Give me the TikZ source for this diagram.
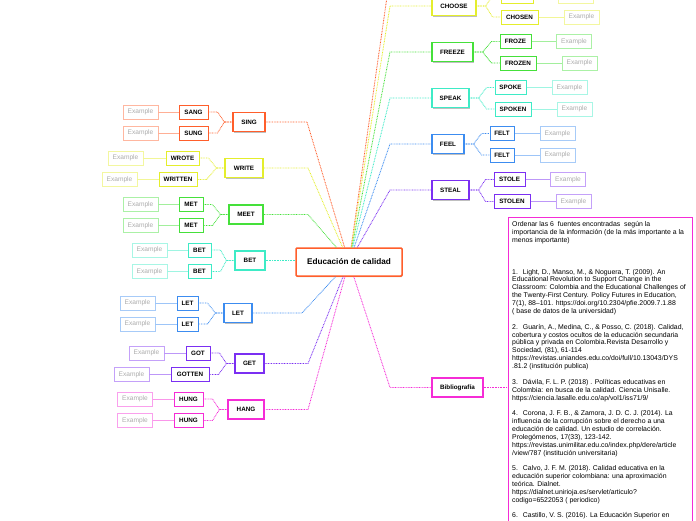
\documentclass[tikz,border=0pt]{standalone}
\usepackage{fontspec}
\setmainfont{Liberation Sans}
\usetikzlibrary{shadows}
\definecolor{corange}{HTML}{FF5E2B}
\definecolor{cyellow}{HTML}{E4EE2C}
\definecolor{cgreen}{HTML}{45E03A}
\definecolor{cteal}{HTML}{3EEBC6}
\definecolor{cblue}{HTML}{3C8CF0}
\definecolor{cpurple}{HTML}{7B2FF2}
\definecolor{cpink}{HTML}{F52CD6}
\tikzset{
  lvlone/.style={draw=#1, line width=1.2pt, fill=white, minimum height=19pt, inner sep=0pt,
    font=\fontsize{6.3}{7}\selectfont\bfseries,
    drop shadow={shadow xshift=0.5pt,shadow yshift=-1pt,fill=black,opacity=0.25}},
  lvltwo/.style={draw=#1, line width=1pt, fill=white, minimum height=14pt, inner sep=0pt,
    font=\fontsize{6.3}{7}\selectfont\bfseries},
  exbox/.style={draw=#1!45, line width=0.9pt, fill=white, minimum height=14pt, minimum width=35pt,
    inner sep=0pt, text=black!32, font=\fontsize{6.6}{7}\selectfont},
  conn/.style={draw=#1, line width=0.85pt, dash pattern=on 0.8pt off 0.8pt},
  exconn/.style={draw=#1!50, line width=1pt},
}
\newcommand\rbr[3]{\draw[conn=#1] (#2.east) -- ++(9,0) -- ([xshift=-8pt]#3.west) -- (#3.west);}
\newcommand\lbr[3]{\draw[conn=#1] (#2.west) -- ++(-8,0) -- ([xshift=9pt]#3.east) -- (#3.east);}
\begin{document}
\begin{tikzpicture}[x=1pt,y=-1pt]
\useasboundingbox (0,0) rectangle (696,520);
\clip (0,0) rectangle (696,520);
% center
\node[draw=corange, line width=1.5pt, fill=white, minimum width=106pt, minimum height=28pt, inner sep=0pt,
  rounded corners=1pt, font=\fontsize{8.2}{9}\selectfont\bfseries,
  drop shadow={shadow xshift=0.5pt,shadow yshift=-1pt,fill=black,opacity=0.25}] (ctr) at (349,262) {Educación de calidad};
\coordinate (topend) at (393,-45);
% ---------- right side ----------
\node[lvlone=cyellow, minimum width=44pt] (choose) at (454,6) {CHOOSE};
\node[lvltwo=cyellow, minimum width=32pt] (chose) at (517,-4) {};
\node[exbox=cyellow] (exchose) at (576,-4) {};
\node[lvltwo=cyellow, minimum width=37pt] (chosen) at (519.5,17) {CHOSEN};
\node[exbox=cyellow] (exchosen) at (581.5,17) {Example};

\node[lvlone=cgreen, minimum width=41pt] (freeze) at (452.5,52) {FREEZE};
\node[lvltwo=cgreen, minimum width=31pt] (froze) at (515.5,41.5) {FROZE};
\node[exbox=cgreen] (exfroze) at (574,41.5) {Example};
\node[lvltwo=cgreen, minimum width=36pt] (frozen) at (518,63) {FROZEN};
\node[exbox=cgreen] (exfrozen) at (579.5,63) {Example};

\node[lvlone=cteal, minimum width=37pt] (speak) at (450.5,98) {SPEAK};
\node[lvltwo=cteal, minimum width=31pt] (spoke) at (510.5,87.5) {SPOKE};
\node[exbox=cteal] (exspoke) at (569.5,87.5) {Example};
\node[lvltwo=cteal, minimum width=36pt] (spoken) at (513,109) {SPOKEN};
\node[exbox=cteal] (exspoken) at (574.5,109) {Example};

\node[lvlone=cblue, minimum width=32pt] (feel) at (448,144) {FEEL};
\node[lvltwo=cblue, minimum width=24pt] (felta) at (502,133.5) {FELT};
\node[exbox=cblue] (exfelta) at (557.5,133.5) {Example};
\node[lvltwo=cblue, minimum width=24pt] (feltb) at (502,155) {FELT};
\node[exbox=cblue] (exfeltb) at (557.5,155) {Example};

\node[lvlone=cpurple, minimum width=37pt] (steal) at (450.5,190) {STEAL};
\node[lvltwo=cpurple, minimum width=31pt] (stole) at (509.5,179.5) {STOLE};
\node[exbox=cpurple] (exstole) at (568,179.5) {Example};
\node[lvltwo=cpurple, minimum width=36pt] (stolen) at (512,201.5) {STOLEN};
\node[exbox=cpurple] (exstolen) at (573.5,201.5) {Example};

\node[lvlone=cpink, minimum width=51pt] (bib) at (457.5,387.5) {Bibliografía};
\node[draw=cpink, line width=1pt, anchor=north west, minimum width=184pt, minimum height=400pt, inner sep=0pt] (bibbox) at (508,217) {};
\node[anchor=north west, inner sep=0pt, align=left, font=\fontsize{6.9}{7.9}\selectfont] (refs) at (512,221.3) {%
Ordenar las 6\ \ fuentes encontradas\ \ según la\\
importancia de la información (de la más importante a la\\
menos importante)\\[23.8pt]
1.\hspace{5pt}Light, D., Manso, M., \& Noguera, T. (2009). An\\
Educational Revolution to Support Change in the\\
Classroom: Colombia and the Educational Challenges of\\
the Twenty-First Century. Policy Futures in Education,\\
7(1), 88–101. https://doi.org/10.2304/pfie.2009.7.1.88\\
( base de datos de la universidad)\\[7.7pt]
2.\hspace{5pt}Guarín, A., Medina, C., \& Posso, C. (2018). Calidad,\\
cobertura y costos ocultos de la educación secundaria\\
pública y privada en Colombia.Revista Desarrollo y\\
Sociedad, (81), 61-114\\
https://revistas.uniandes.edu.co/doi/full/10.13043/DYS\\
.81.2 (institución publica)\\[7.7pt]
3.\hspace{5pt}Dávila, F. L. P. (2018) . Políticas educativas en\\
Colombia: en busca de la calidad. Ciencia Unisalle.\\
https://ciencia.lasalle.edu.co/ap/vol1/iss71/9/\\[7.7pt]
4.\hspace{5pt}Corona, J. F. B., \& Zamora, J. D. C. J. (2014). La\\
influencia de la corrupción sobre el derecho a una\\
educación de calidad. Un estudio de correlación.\\
Prolegómenos, 17(33), 123-142.\\
https://revistas.unimilitar.edu.co/index.php/dere/article\\
/view/787 (institución universitaria)\\[7.7pt]
5.\hspace{5pt}Calvo, J. F. M. (2018). Calidad educativa en la\\
educación superior colombiana: una aproximación\\
teórica. Dialnet.\\
https://dialnet.unirioja.es/servlet/articulo?\\
codigo=6522053 ( periodico)\\[7.7pt]
6.\hspace{5pt}Castillo, V. S. (2016). La Educación Superior en};

% ---------- left side ----------
\node[lvlone=corange, minimum width=32pt] (sing) at (249,122) {SING};
\node[lvltwo=corange, minimum width=29pt] (sang) at (193.5,112) {SANG};
\node[exbox=corange] (exsang) at (140.5,112) {Example};
\node[lvltwo=corange, minimum width=29pt] (sung) at (193.5,133) {SUNG};
\node[exbox=corange] (exsung) at (140.5,133) {Example};

\node[lvlone=cyellow, minimum width=38pt] (write) at (244,168) {WRITE};
\node[lvltwo=cyellow, minimum width=33pt] (wrote) at (182.5,158) {WROTE};
\node[exbox=cyellow] (exwrote) at (125.5,158) {Example};
\node[lvltwo=cyellow, minimum width=38pt] (written) at (178,179.5) {WRITTEN};
\node[exbox=cyellow] (exwritten) at (119.5,179.5) {Example};

\node[lvlone=cgreen, minimum width=34pt] (meet) at (246,214.5) {MEET};
\node[lvltwo=cgreen, minimum width=24pt] (meta) at (191,204.5) {MET};
\node[exbox=cgreen] (exmeta) at (140.5,204.5) {Example};
\node[lvltwo=cgreen, minimum width=24pt] (metb) at (191,225.5) {MET};
\node[exbox=cgreen] (exmetb) at (140.5,225.5) {Example};

\node[lvlone=cteal, minimum width=30pt] (betp) at (250,260.5) {BET};
\node[lvltwo=cteal, minimum width=23pt] (beta) at (199.5,250) {BET};
\node[exbox=cteal] (exbeta) at (149.5,250) {Example};
\node[lvltwo=cteal, minimum width=23pt] (betb) at (199.5,271.5) {BET};
\node[exbox=cteal] (exbetb) at (149.5,271.5) {Example};

\node[lvlone=cblue, minimum width=28pt] (letp) at (238,313) {LET};
\node[lvltwo=cblue, minimum width=21pt] (leta) at (187.5,303) {LET};
\node[exbox=cblue] (exleta) at (137.5,303) {Example};
\node[lvltwo=cblue, minimum width=21pt] (letb) at (187.5,324) {LET};
\node[exbox=cblue] (exletb) at (137.5,324) {Example};

\node[lvlone=cpurple, minimum width=29pt] (get) at (249.5,363.5) {GET};
\node[lvltwo=cpurple, minimum width=24pt] (got) at (198,353) {GOT};
\node[exbox=cpurple] (exgot) at (146.5,353) {Example};
\node[lvltwo=cpurple, minimum width=38pt] (gotten) at (190,374.5) {GOTTEN};
\node[exbox=cpurple] (exgotten) at (131.5,374.5) {Example};

\node[lvlone=cpink, minimum width=36pt] (hang) at (246,409.5) {HANG};
\node[lvltwo=cpink, minimum width=29pt] (hunga) at (188.5,399) {HUNG};
\node[exbox=cpink] (exhunga) at (135,399) {Example};
\node[lvltwo=cpink, minimum width=29pt] (hungb) at (188.5,420.5) {HUNG};
\node[exbox=cpink] (exhungb) at (135,420.5) {Example};

% ---------- main connectors ----------
\draw[conn=corange] (ctr) -- (topend);
\draw[conn=cyellow] (ctr) -- (390,6) -- (choose.west);
\draw[conn=cgreen] (ctr) -- (390,52) -- (freeze.west);
\draw[conn=cteal] (ctr) -- (390,98) -- (speak.west);
\draw[conn=cblue] (ctr) -- (390,144) -- (feel.west);
\draw[conn=cpurple] (ctr) -- (390,190) -- (steal.west);
\draw[conn=cpink] (ctr) -- (390,387.5) -- (bib.west);
\draw[conn=cpink] (bib.east) -- (bib.east -| bibbox.west);

\draw[conn=corange] (ctr) -- (307,122) -- (sing.east);
\draw[conn=cyellow] (ctr) -- (308,168) -- (write.east);
\draw[conn=cgreen] (ctr) -- (308,214.5) -- (meet.east);
\draw[conn=cteal] (betp.east) -- (betp.east -| ctr.west);
\draw[conn=cblue] (ctr) -- (302,313) -- (letp.east);
\draw[conn=cpurple] (ctr) -- (308,363.5) -- (get.east);
\draw[conn=cpink] (ctr) -- (308,409.5) -- (hang.east);

% ---------- branch connectors ----------
\rbr{cyellow}{choose}{chose}
\rbr{cyellow}{choose}{chosen}
\rbr{cgreen}{freeze}{froze}
\rbr{cgreen}{freeze}{frozen}
\rbr{cteal}{speak}{spoke}
\rbr{cteal}{speak}{spoken}
\rbr{cblue}{feel}{felta}
\rbr{cblue}{feel}{feltb}
\rbr{cpurple}{steal}{stole}
\rbr{cpurple}{steal}{stolen}

\lbr{corange}{sing}{sang}
\lbr{corange}{sing}{sung}
\lbr{cyellow}{write}{wrote}
\lbr{cyellow}{write}{written}
\lbr{cgreen}{meet}{meta}
\lbr{cgreen}{meet}{metb}
\lbr{cteal}{betp}{beta}
\lbr{cteal}{betp}{betb}
\lbr{cblue}{letp}{leta}
\lbr{cblue}{letp}{letb}
\lbr{cpurple}{get}{got}
\lbr{cpurple}{get}{gotten}
\lbr{cpink}{hang}{hunga}
\lbr{cpink}{hang}{hungb}

% ---------- example connectors ----------
\foreach \c/\a/\b in {cyellow/chose/exchose, cyellow/chosen/exchosen, cgreen/froze/exfroze, cgreen/frozen/exfrozen,
  cteal/spoke/exspoke, cteal/spoken/exspoken, cblue/felta/exfelta, cblue/feltb/exfeltb,
  cpurple/stole/exstole, cpurple/stolen/exstolen}
  {\draw[exconn=\c] (\a.east) -- (\b.west);}
\foreach \c/\a/\b in {corange/sang/exsang, corange/sung/exsung, cyellow/wrote/exwrote, cyellow/written/exwritten,
  cgreen/meta/exmeta, cgreen/metb/exmetb, cteal/beta/exbeta, cteal/betb/exbetb,
  cblue/leta/exleta, cblue/letb/exletb, cpurple/got/exgot, cpurple/gotten/exgotten,
  cpink/hunga/exhunga, cpink/hungb/exhungb}
  {\draw[exconn=\c] (\a.west) -- (\b.east);}
\end{tikzpicture}
\end{document}
